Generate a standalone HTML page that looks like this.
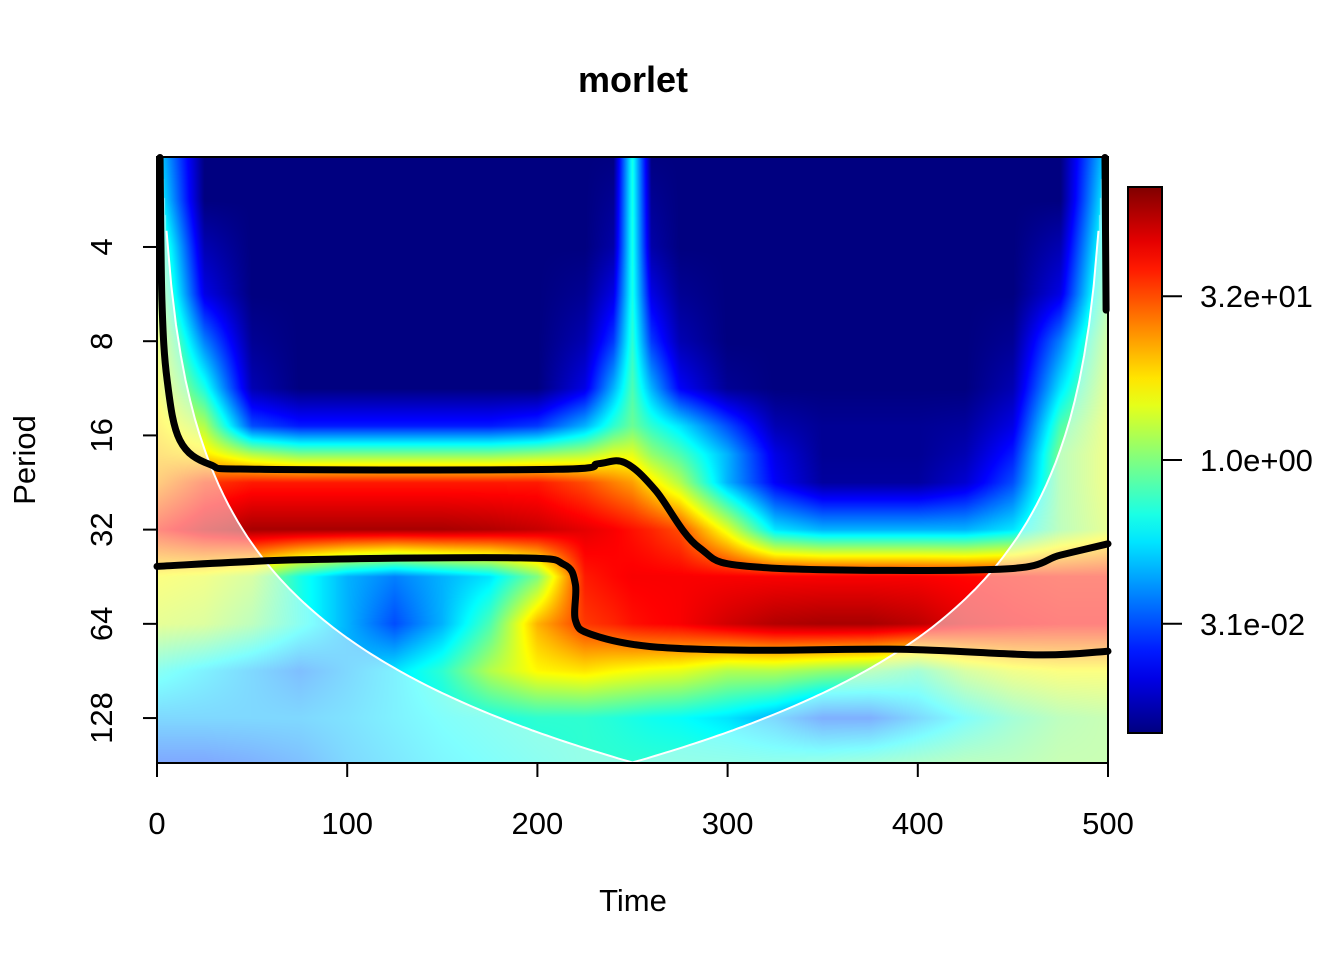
<!DOCTYPE html>
<html><head><meta charset="utf-8"><style>
body{margin:0;background:#fff;}
#wrap{position:relative;width:1344px;height:960px;font-family:"Liberation Sans",Arial,sans-serif;}
#heat{position:absolute;left:157px;top:157px;}
svg{position:absolute;left:0;top:0;}
</style></head><body>
<div id="wrap">
<canvas id="heat" width="951" height="606"></canvas>
<svg id="ov" width="1344" height="960"></svg>
</div>
<script>
// ---- data ----
const gridTimes = [0,25,50,75,100,125,150,175,200,225,240,250,260,275,300,325,350,375,400,425,450,475,500];
const gridLog2Periods = [1.0,1.5,2.0,2.5,3.0,3.5,3.9,4.2,4.5,5.0,5.5,6.0,6.5,7.0,7.5];
const powerLevels = [
[0.35,0,0,0,0,0,0,0,0,0,0,0.4,0,0,0,0,0,0,0,0,0,0,0.35],
[0.4,0,0,0,0,0,0,0,0,0,0.02,0.4,0.02,0,0,0,0,0,0,0,0,0,0.4],
[0.5,0.05,0,0,0,0,0,0,0,0,0.04,0.4,0.04,0,0,0,0,0,0,0,0,0.05,0.45],
[0.55,0.1,0,0,0,0,0,0,0,0.02,0.1,0.4,0.1,0.02,0,0,0,0,0,0,0,0.1,0.5],
[0.6,0.25,0.02,0,0,0,0,0,0,0.05,0.18,0.42,0.18,0.05,0,0,0,0,0,0,0.02,0.25,0.55],
[0.62,0.4,0.05,0,0,0,0,0,0,0.1,0.3,0.45,0.3,0.12,0.02,0,0,0,0,0,0.05,0.35,0.58],
[0.65,0.55,0.2,0.15,0.15,0.15,0.15,0.15,0.18,0.3,0.42,0.48,0.42,0.35,0.2,0.05,0.02,0.02,0.02,0.03,0.1,0.45,0.6],
[0.68,0.65,0.55,0.5,0.5,0.5,0.5,0.5,0.52,0.55,0.6,0.6,0.52,0.45,0.3,0.1,0.02,0.02,0.02,0.05,0.15,0.5,0.6],
[0.72,0.82,0.85,0.85,0.85,0.85,0.85,0.85,0.85,0.8,0.75,0.72,0.65,0.55,0.3,0.12,0.03,0.03,0.03,0.08,0.2,0.5,0.6],
[0.85,0.92,0.96,0.96,0.96,0.96,0.96,0.95,0.93,0.9,0.88,0.86,0.84,0.8,0.6,0.35,0.3,0.3,0.3,0.3,0.35,0.5,0.58],
[0.62,0.6,0.55,0.4,0.3,0.25,0.3,0.35,0.5,0.85,0.87,0.88,0.88,0.88,0.88,0.88,0.88,0.88,0.88,0.87,0.86,0.85,0.85],
[0.58,0.56,0.5,0.4,0.3,0.2,0.3,0.45,0.7,0.82,0.84,0.86,0.87,0.88,0.92,0.95,0.96,0.96,0.94,0.9,0.88,0.87,0.87],
[0.4,0.35,0.3,0.25,0.3,0.35,0.42,0.55,0.63,0.65,0.63,0.62,0.61,0.6,0.55,0.55,0.52,0.5,0.45,0.55,0.6,0.62,0.62],
[0.3,0.3,0.3,0.3,0.32,0.35,0.38,0.4,0.42,0.42,0.41,0.4,0.39,0.38,0.35,0.3,0.22,0.22,0.3,0.38,0.45,0.5,0.52],
[0.2,0.2,0.22,0.25,0.3,0.33,0.36,0.38,0.4,0.42,0.42,0.42,0.42,0.42,0.42,0.42,0.44,0.46,0.48,0.5,0.5,0.52,0.52]
];
const contour1Times = [1.6,2.6,5.3,12,28,54,210,232,246,262,285,317,443,475,500];
const contour1Log2P = [1.05,2.56,3.41,4.05,4.31,4.36,4.36,4.30,4.29,4.58,5.19,5.40,5.42,5.27,5.15];
const contour2Times = [0,75,191,214,220,220,228,259,312,391,464,500];
const contour2Log2P = [5.39,5.32,5.30,5.37,5.58,5.96,6.11,6.24,6.28,6.27,6.33,6.29];
const contour3Times = [498.4,499];
const contour3Log2P = [1.05,2.67];
const xTicks = [0,100,200,300,400,500];
const yTickPeriods = [4,8,16,32,64,128];
const colorbarTickLabels = ["3.1e-02","1.0e+00","3.2e+01"];
const colorbarTickLevels = [0.2,0.5,0.8];
const coiFactor = 0.71;

// ---- axes ----
const X0=157,X1=1108,Y0=157,Y1=763;
const tMin=0,tMax=500,lpTop=1.045,lpBot=7.477;
const xs=t=>X0+(t-tMin)/(tMax-tMin)*(X1-X0);
const ys=lp=>Y0+(lp-lpTop)/(lpBot-lpTop)*(Y1-Y0);
function jet(v){v=Math.max(0,Math.min(1,v));
 const c=x=>Math.max(0,Math.min(1,x));
 return [c(1.5-Math.abs(4*v-3)),c(1.5-Math.abs(4*v-2)),c(1.5-Math.abs(4*v-1))].map(a=>Math.round(a*255));}
function coiLp(t){const d=Math.min(t-tMin,tMax-t);return d<=0?-10:Math.log2(coiFactor*d);}

// ---- heatmap ----
const cv=document.getElementById('heat'),ctx=cv.getContext('2d');
const W=cv.width,H=cv.height,img=ctx.createImageData(W,H);
function interp(arr,v){let i=0;while(i<arr.length-2&&v>arr[i+1])i++;let f=(v-arr[i])/(arr[i+1]-arr[i]);return [i,Math.max(0,Math.min(1,f))];}
for(let py=0;py<H;py++){
 const lp=lpTop+(py+0.5)/H*(lpBot-lpTop);
 const [ri,rf]=interp(gridLog2Periods,lp);
 for(let px=0;px<W;px++){
  const t=tMin+(px+0.5)/W*(tMax-tMin);
  const [ci,cf]=interp(gridTimes,t);
  const a=powerLevels[ri][ci],b=powerLevels[ri][ci+1],c=powerLevels[ri+1][ci],d=powerLevels[ri+1][ci+1];
  const v=(a*(1-cf)+b*cf)*(1-rf)+(c*(1-cf)+d*cf)*rf;
  let col=jet(v);
  if(lp>coiLp(t)) col=col.map(k=>Math.round(k*0.5+127));
  const o=(py*W+px)*4;img.data[o]=col[0];img.data[o+1]=col[1];img.data[o+2]=col[2];img.data[o+3]=255;
 }}
ctx.putImageData(img,0,0);

// ---- svg overlay ----
const NS="http://www.w3.org/2000/svg",svg=document.getElementById('ov');
function mk(tag,attrs,parent){const e=document.createElementNS(NS,tag);for(const k in attrs)e.setAttribute(k,attrs[k]);(parent||svg).appendChild(e);return e;}
let cp=[];for(let t=0;t<=500;t+=2.5){let lp=Math.min(coiLp(t),lpBot);if(lp<lpTop)continue;cp.push(xs(t).toFixed(1)+','+ys(lp).toFixed(1));}
const coi=mk('polyline',{points:cp.join(' '),fill:'none',stroke:'#fff','stroke-width':2});


function smoothPath(P){if(P.length<3)return 'M'+P.map(p=>p.join(',')).join(' L');
 let d='M'+P[0][0]+','+P[0][1];
 for(let i=0;i<P.length-1;i++){const p0=P[Math.max(0,i-1)],p1=P[i],p2=P[i+1],p3=P[Math.min(P.length-1,i+2)];
  const c1=[p1[0]+(p2[0]-p0[0])/6,p1[1]+(p2[1]-p0[1])/6],c2=[p2[0]-(p3[0]-p1[0])/6,p2[1]-(p3[1]-p1[1])/6];
  d+=` C${c1[0].toFixed(1)},${c1[1].toFixed(1)} ${c2[0].toFixed(1)},${c2[1].toFixed(1)} ${p2[0].toFixed(1)},${p2[1].toFixed(1)}`;}
 return d;}
function contour(ts,ls,name){const P=ts.map((t,i)=>[xs(t),ys(ls[i])]);
 const e=mk('path',{d:smoothPath(P),fill:'none',stroke:'#000','stroke-width':7,'stroke-linejoin':'round','stroke-linecap':'round'});
 
 }
contour(contour1Times,contour1Log2P,'significance-contour-upper');
contour(contour2Times,contour2Log2P,'significance-contour-lower');
contour(contour3Times,contour3Log2P,'significance-contour-right-edge');
const frame=mk('rect',{x:X0,y:Y0,width:X1-X0,height:Y1-Y0,fill:'none',stroke:'#000','stroke-width':2});


xTicks.forEach(t=>{const x=xs(t);
 mk('line',{x1:x,x2:x,y1:Y1,y2:Y1+14,stroke:'#000','stroke-width':2});
 const tx=mk('text',{x:x,y:834,'font-size':31,'text-anchor':'middle'});tx.textContent=t;
 
 });
yTickPeriods.forEach(p=>{const y=ys(Math.log2(p));
 mk('line',{x1:X0,x2:X0-14,y1:y,y2:y,stroke:'#000','stroke-width':2});
 const tx=mk('text',{x:0,y:0,'font-size':31,'text-anchor':'middle',transform:`translate(112,${y}) rotate(-90)`});tx.textContent=p;
 
 });
let e=mk('text',{x:633,y:92,'font-size':36,'font-weight':'bold','text-anchor':'middle'});e.textContent='morlet';


e=mk('text',{x:633,y:911,'font-size':31,'text-anchor':'middle'});e.textContent='Time';


e=mk('text',{x:0,y:0,'font-size':31,'text-anchor':'middle',transform:'translate(35,460) rotate(-90)'});e.textContent='Period';


const CB={x:1128,y:187,w:34,h:546};
const defs=mk('defs',{});const g=mk('linearGradient',{id:'jetg',x1:0,y1:1,x2:0,y2:0},defs);
for(let i=0;i<=20;i++){const c=jet(i/20);mk('stop',{offset:i/20,'stop-color':`rgb(${c})`},g);}
e=mk('rect',{x:CB.x,y:CB.y,width:CB.w,height:CB.h,fill:'url(#jetg)',stroke:'#000','stroke-width':2});


colorbarTickLevels.forEach((lv,i)=>{const y=CB.y+CB.h*(1-lv);
 mk('line',{x1:CB.x+CB.w,x2:CB.x+CB.w+20,y1:y,y2:y,stroke:'#000','stroke-width':2});
 const tx=mk('text',{x:1200,y:y+11,'font-size':31});tx.textContent=colorbarTickLabels[i];
 
 });
</script>
</body></html>
